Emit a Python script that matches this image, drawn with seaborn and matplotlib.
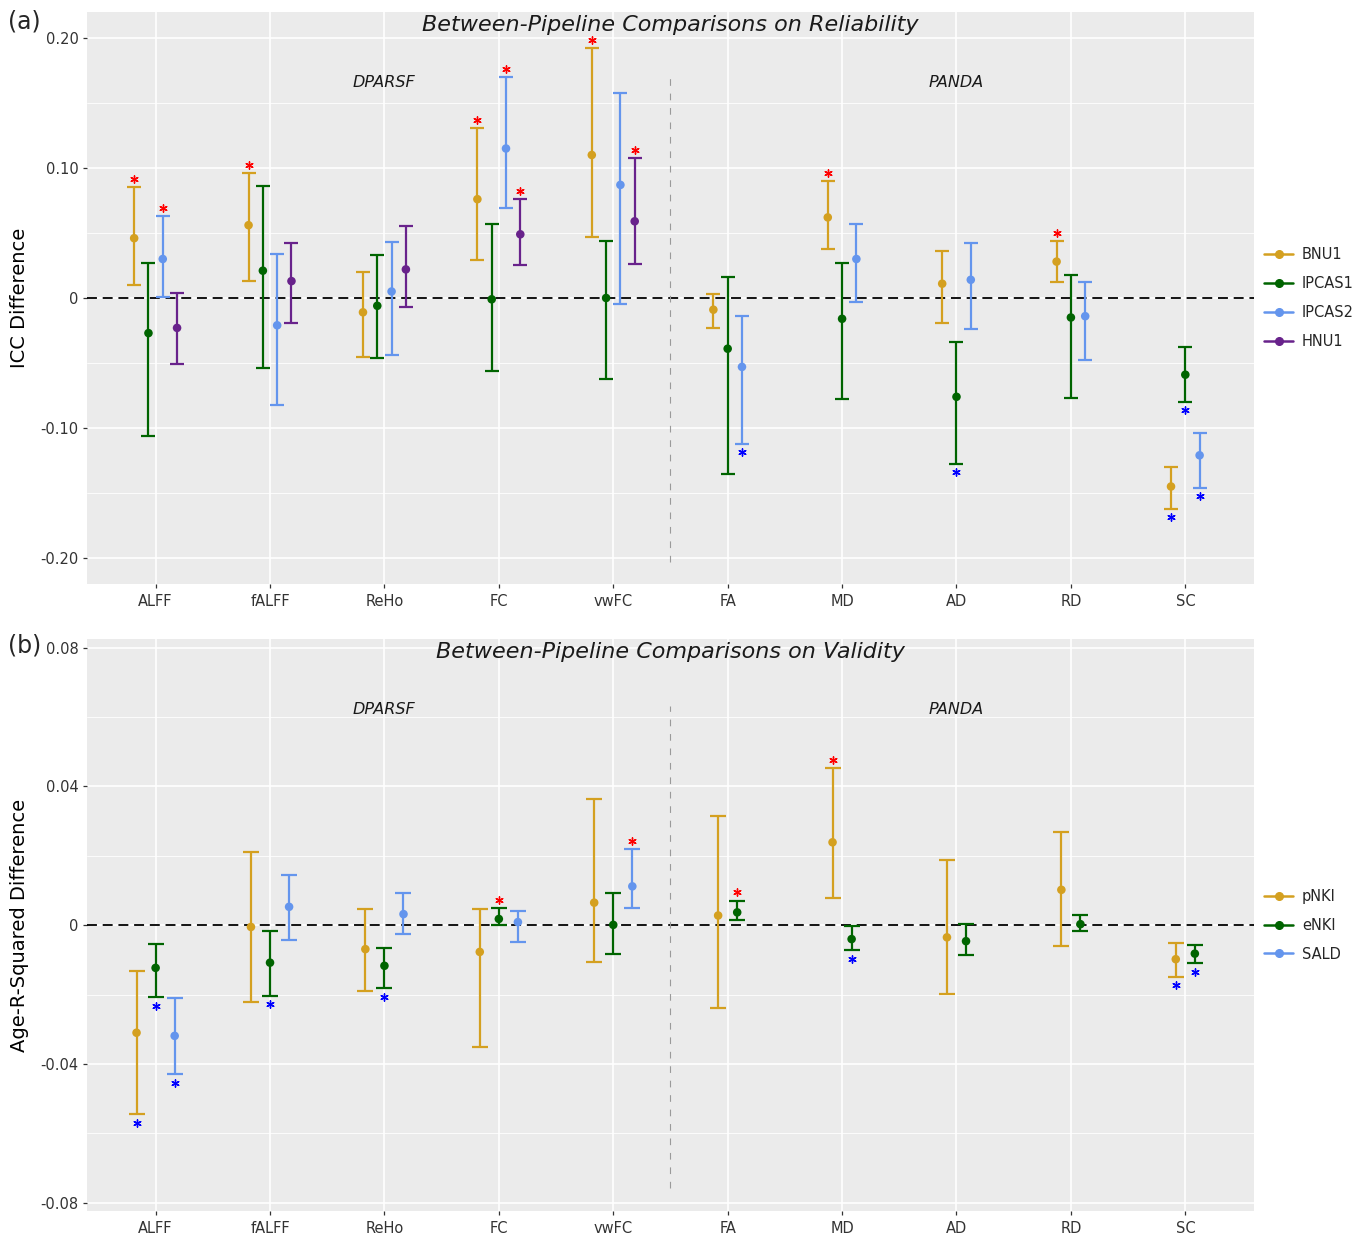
import numpy as np
import pandas as pd
import matplotlib
matplotlib.use("Agg")
import matplotlib.pyplot as plt
from matplotlib.lines import Line2D
import seaborn as sns

# ---------------- data ----------------
metrics = ["ALFF", "fALFF", "ReHo", "FC", "vwFC", "FA", "MD", "AD", "RD", "SC"]

# (a) ICC difference: estimate, lower, upper, significance ("+" better, "-" worse)
rel_series = ["BNU1", "IPCAS1", "IPCAS2", "HNU1"]
bnu1_est = [0.046, 0.056, -0.011, 0.076, 0.110, -0.009, 0.062, 0.011, 0.028, -0.145]
bnu1_lo = [0.010, 0.013, -0.045, 0.029, 0.047, -0.023, 0.038, -0.019, 0.012, -0.162]
bnu1_hi = [0.085, 0.096, 0.020, 0.131, 0.192, 0.003, 0.090, 0.036, 0.044, -0.130]
bnu1_sig = ["+", "+", "", "+", "+", "", "+", "", "+", "-"]

ipcas1_est = [-0.027, 0.021, -0.006, -0.001, 0.000, -0.039, -0.016, -0.076, -0.015, -0.059]
ipcas1_lo = [-0.106, -0.054, -0.046, -0.056, -0.062, -0.135, -0.078, -0.128, -0.077, -0.080]
ipcas1_hi = [0.027, 0.086, 0.033, 0.057, 0.044, 0.016, 0.027, -0.034, 0.018, -0.038]
ipcas1_sig = ["", "", "", "", "", "", "", "-", "", "-"]

ipcas2_est = [0.030, -0.021, 0.005, 0.115, 0.087, -0.053, 0.030, 0.014, -0.014, -0.121]
ipcas2_lo = [0.001, -0.082, -0.044, 0.069, -0.005, -0.112, -0.003, -0.024, -0.048, -0.146]
ipcas2_hi = [0.063, 0.034, 0.043, 0.170, 0.158, -0.014, 0.057, 0.042, 0.012, -0.104]
ipcas2_sig = ["+", "", "", "+", "", "-", "", "", "", "-"]

hnu1_est = [-0.023, 0.013, 0.022, 0.049, 0.059, np.nan, np.nan, np.nan, np.nan, np.nan]
hnu1_lo = [-0.051, -0.019, -0.007, 0.025, 0.026, np.nan, np.nan, np.nan, np.nan, np.nan]
hnu1_hi = [0.004, 0.042, 0.055, 0.076, 0.108, np.nan, np.nan, np.nan, np.nan, np.nan]
hnu1_sig = ["", "", "", "+", "+", "", "", "", "", ""]

# (b) Age R-squared difference
val_series = ["pNKI", "eNKI", "SALD"]
pnki_est = [-0.0310, -0.0005, -0.0069, -0.0077, 0.0065, 0.0028, 0.0239, -0.0035, 0.0102, -0.0098]
pnki_lo = [-0.0545, -0.0221, -0.0190, -0.0350, -0.0106, -0.0238, 0.0079, -0.0199, -0.0060, -0.0148]
pnki_hi = [-0.0131, 0.0210, 0.0047, 0.0048, 0.0365, 0.0316, 0.0452, 0.0187, 0.0268, -0.0051]
pnki_sig = ["-", "", "", "", "", "", "+", "", "", "-"]

enki_est = [-0.0123, -0.0108, -0.0117, 0.0018, 0.0001, 0.0037, -0.0040, -0.0046, 0.0003, -0.0082]
enki_lo = [-0.0208, -0.0203, -0.0182, 0.0001, -0.0083, 0.0016, -0.0072, -0.0085, -0.0016, -0.0110]
enki_hi = [-0.0055, -0.0018, -0.0066, 0.0049, 0.0094, 0.0071, -0.0002, 0.0004, 0.0029, -0.0056]
enki_sig = ["-", "-", "-", "+", "", "+", "-", "", "", "-"]

sald_est = [-0.0319, 0.0053, 0.0032, 0.0009, 0.0112, np.nan, np.nan, np.nan, np.nan, np.nan]
sald_lo = [-0.0430, -0.0042, -0.0026, -0.0048, 0.0049, np.nan, np.nan, np.nan, np.nan, np.nan]
sald_hi = [-0.0210, 0.0146, 0.0092, 0.0040, 0.0219, np.nan, np.nan, np.nan, np.nan, np.nan]
sald_sig = ["-", "", "", "", "+", "", "", "", "", ""]

rel_colors = ["#D4A020", "#006400", "#6495ED", "#68228B"]
val_colors = ["#D4A020", "#006400", "#6495ED"]


def build_frame(series, est, lo, hi, sig):
    rows = []
    for s, e, l, h, g in zip(series, est, lo, hi, sig):
        for i, m in enumerate(metrics):
            rows.append(dict(series=s, metric=m, idx=i, est=e[i], lo=l[i], hi=h[i], sig=g[i]))
    df = pd.DataFrame(rows).dropna(subset=["est"])
    # dodge within each metric, centred on the metric position
    slot = 0.5 / len(series)
    order = {s: k for k, s in enumerate(series)}
    df["x"] = 0.0
    for m, grp in df.groupby("metric"):
        grp = grp.sort_values("series", key=lambda c: c.map(order))
        k = len(grp)
        for j, ix in enumerate(grp.index):
            df.loc[ix, "x"] = grp.loc[ix, "idx"] + (j - (k - 1) / 2) * slot
    return df


rel_df = build_frame(rel_series,
                     [bnu1_est, ipcas1_est, ipcas2_est, hnu1_est],
                     [bnu1_lo, ipcas1_lo, ipcas2_lo, hnu1_lo],
                     [bnu1_hi, ipcas1_hi, ipcas2_hi, hnu1_hi],
                     [bnu1_sig, ipcas1_sig, ipcas2_sig, hnu1_sig])
val_df = build_frame(val_series,
                     [pnki_est, enki_est, sald_est],
                     [pnki_lo, enki_lo, sald_lo],
                     [pnki_hi, enki_hi, sald_hi],
                     [pnki_sig, enki_sig, sald_sig])

# ---------------- figure ----------------
sns.set_theme(style="darkgrid")
plt.rcParams["font.family"] = ["DejaVu Sans"]

fig = plt.figure(figsize=(13.63, 12.36), dpi=100)
ax_a = fig.add_axes([0.0638, 0.5275, 0.8562, 0.4628])
ax_b = fig.add_axes([0.0638, 0.0202, 0.8562, 0.4625])


def draw_panel(ax, df, series, colors, ylim, yticks, yticklabels, minor, ylabel,
               title, capsize, star_gap, sep_span, group_y):
    ax.set_facecolor("#EBEBEB")
    ax.grid(False)
    for y in minor:
        ax.axhline(y, color="white", lw=0.6, zorder=0)
    for y in yticks:
        ax.axhline(y, color="white", lw=1.2, zorder=0)
    for i in range(len(metrics)):
        ax.axvline(i, color="white", lw=1.2, zorder=0)

    ax.axhline(0, color="black", lw=1.3, ls=(0, (5.5, 3.2)), zorder=1)
    ax.plot([4.5, 4.5], sep_span, color="#9A9A9A", lw=0.8, ls=(0, (6, 7)), zorder=1)

    pal = dict(zip(series, colors))
    for s in series:
        sub = df[df["series"] == s]
        ax.errorbar(sub["x"], sub["est"],
                    yerr=[sub["est"] - sub["lo"], sub["hi"] - sub["est"]],
                    fmt="none", ecolor=pal[s], elinewidth=1.6, capsize=capsize,
                    capthick=1.6, zorder=2)
    sns.scatterplot(data=df, x="x", y="est", hue="series", palette=pal,
                    hue_order=series, s=38, edgecolor="none", legend=False,
                    ax=ax, zorder=3)

    up = df[df["sig"] == "+"]
    dn = df[df["sig"] == "-"]
    ax.scatter(up["x"], up["hi"] + star_gap, marker=(6, 2, 0), s=28, color="red",
               linewidths=1.0, zorder=4)
    ax.scatter(dn["x"], dn["lo"] - star_gap, marker=(6, 2, 0), s=28, color="blue",
               linewidths=1.0, zorder=4)

    ax.text(2, group_y, "DPARSF", style="italic", fontsize=11.5, ha="center",
            va="center", color="#1A1A1A")
    ax.text(7, group_y, "PANDA", style="italic", fontsize=11.5, ha="center",
            va="center", color="#1A1A1A")
    ax.text(0.5, 0.978, title, transform=ax.transAxes, style="italic",
            fontsize=16, ha="center", va="center", color="#1A1A1A")

    ax.set_xlim(-0.6, len(metrics) - 0.4)
    ax.set_ylim(*ylim)
    ax.set_xticks(range(len(metrics)))
    ax.set_xticklabels(metrics, fontsize=10.5, color="#333333")
    ax.set_yticks(yticks)
    ax.set_yticklabels(yticklabels, fontsize=10.5, color="#333333")
    ax.tick_params(axis="both", length=3, width=0.9, color="#333333", pad=3,
                   bottom=True, left=True)
    ax.tick_params(axis="x", pad=4)
    ax.set_xlabel("")
    ax.set_ylabel(ylabel, fontsize=14, color="black", labelpad=8)
    for sp in ax.spines.values():
        sp.set_visible(False)

    handles = [Line2D([0], [0], color=c, lw=1.8, marker="o", markersize=5.5)
               for c in colors]
    ax.legend(handles, series, loc="center left", bbox_to_anchor=(1.0, 0.5),
              frameon=False, fontsize=10.5, handlelength=2.0, handletextpad=0.6,
              labelspacing=0.95, borderaxespad=0.3)


draw_panel(ax_a, rel_df, rel_series, rel_colors, (-0.22, 0.22),
           [-0.20, -0.10, 0.0, 0.10, 0.20],
           ["-0.20", "-0.10", "0", "0.10", "0.20"],
           [-0.15, -0.05, 0.05, 0.15], "ICC Difference",
           "Between-Pipeline Comparisons on Reliability", 4.7, 0.0062,
           (-0.203, 0.170), 0.166)
draw_panel(ax_b, val_df, val_series, val_colors, (-0.0824, 0.0824),
           [-0.08, -0.04, 0.0, 0.04, 0.08],
           ["-0.08", "-0.04", "0", "0.04", "0.08"],
           [-0.06, -0.02, 0.02, 0.06], "Age-R-Squared Difference",
           "Between-Pipeline Comparisons on Validity", 6.0, 0.0025,
           (-0.0758, 0.0633), 0.0623)

fig.text(0.006, 1 - 22 / 1236, "(a)", fontsize=17, ha="left", va="center")
fig.text(0.006, 1 - 646 / 1236, "(b)", fontsize=17, ha="left", va="center")

fig.savefig("out.png", dpi=100, facecolor="white")
